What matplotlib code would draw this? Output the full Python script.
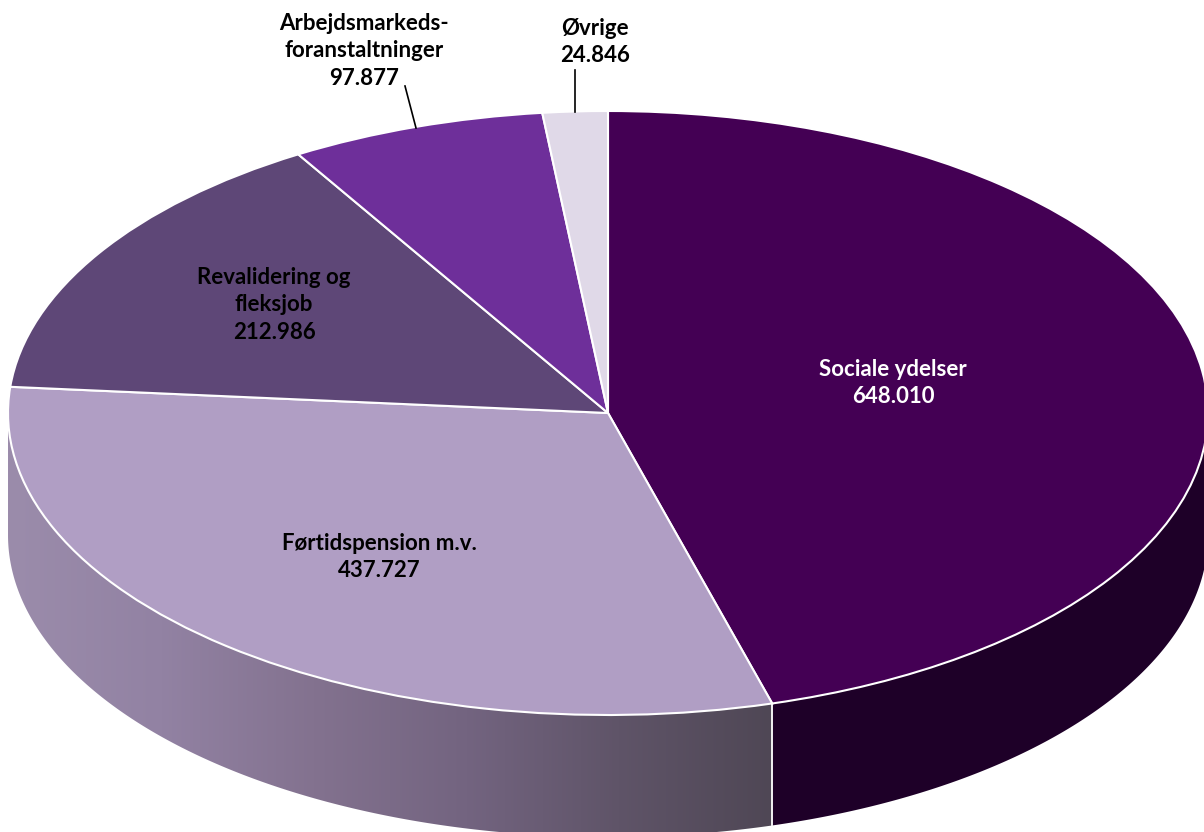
import matplotlib
matplotlib.use('Agg')
import matplotlib.pyplot as plt
from matplotlib.colors import LinearSegmentedColormap
from matplotlib.patches import Polygon
import numpy as np

categories = ['Sociale ydelser', 'Førtidspension m.v.', 'Revalidering og\nfleksjob',
              'Arbejdsmarkeds-\nforanstaltninger', 'Øvrige']
values = [648010, 437727, 212986, 97877, 24846]
value_labels = ['648.010', '437.727', '212.986', '97.877', '24.846']
colors = ['#440054', '#b09ec4', '#5e4777', '#6e2f9a', '#e0d9e8']

W, H = 1204, 832
cx, cy = 608, 413
rx, ry = 600, 302
depth = 122 / ry

plt.rcParams['font.family'] = ['Lato', 'DejaVu Sans']

fig = plt.figure(figsize=(W / 100, H / 100), dpi=100)
ax = fig.add_axes([0, 0, 1, 1])


def px(x, y):
    return (x - cx) / rx, (cy - y) / ry


def side_shape(a0, a1):
    # a0, a1 in degrees clockwise from 12 o'clock
    a = np.radians(np.linspace(a0, a1, 200))
    x = np.sin(a)
    y = np.cos(a)
    return np.r_[x, x[::-1]], np.r_[y, y[::-1] - depth]


split = 360 * values[0] / sum(values)

# side of the cake
x1, y1 = side_shape(90, split)
ax.fill(x1, y1, color='#1e0028', lw=0, zorder=1)

grad = LinearSegmentedColormap.from_list(
    'side', ['#9b8cab', '#9282a3', '#83728f', '#736480', '#5f5468', '#4f4755'])
x2, y2 = side_shape(split, 270)
img = ax.imshow(np.linspace(0, 1, 256).reshape(1, -1), cmap=grad, aspect='auto',
                extent=[-1, np.sin(np.radians(split)), -3, 2], zorder=1)
img.set_clip_path(Polygon(np.c_[x2, y2], transform=ax.transData))

xs = np.sin(np.radians(split))
ys = np.cos(np.radians(split))
ax.plot([xs, xs], [ys, ys - depth], color='white', lw=1.3, zorder=2)

# top face
ax.pie(values, colors=colors, startangle=90, counterclock=False, radius=1,
       wedgeprops={'edgecolor': 'white', 'linewidth': 1.5, 'zorder': 3})
ax.set_aspect('auto')
ax.set_xlim(-cx / rx, (W - cx) / rx)
ax.set_ylim(-(H - cy) / ry, cy / ry)

# labels
label_pos = [(893, 383), (379, 557), (274, 305), (364, 51), (595, 42)]
label_col = ['white', 'black', 'black', 'black', 'black']
for name, val, pos, col in zip(categories, value_labels, label_pos, label_col):
    x, y = px(*pos)
    ax.text(x, y, name + '\n' + val, ha='center', va='center', color=col,
            fontsize=16, fontweight='bold', linespacing=1.38, zorder=5)

# leader lines
for p0, p1 in [((405, 86), (416, 128)), ((575, 70), (575, 112))]:
    a, b = px(*p0), px(*p1)
    ax.plot([a[0], b[0]], [a[1], b[1]], color='black', lw=1.2, zorder=4)

fig.savefig('out.png', dpi=100)
